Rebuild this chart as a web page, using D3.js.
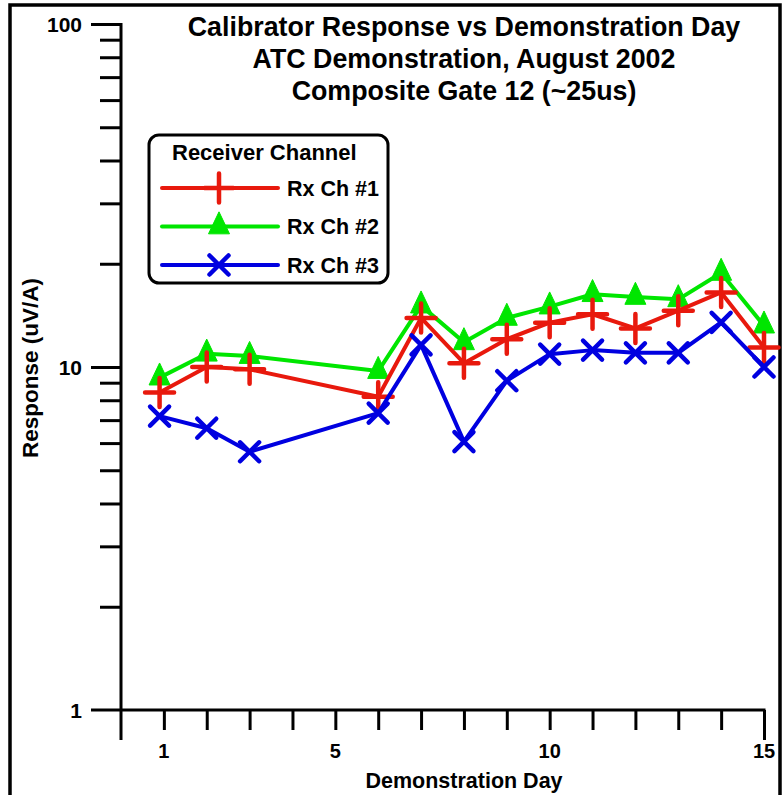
<!DOCTYPE html>
<html>
<head>
<meta charset="utf-8">
<script src="https://cdn.jsdelivr.net/npm/d3@7/dist/d3.min.js"></script>
<style>
  html, body { margin: 0; padding: 0; background: #fff; }
  svg { display: block; }
  text { font-family: "Liberation Sans", Arial, Helvetica, sans-serif; font-weight: bold; fill: #000; }
</style>
</head>
<body>
<svg id="chart" width="782" height="795"></svg>
<script>
// ---- data ----
const titleLines = ["Calibrator Response vs Demonstration Day", "ATC Demonstration, August 2002", "Composite Gate 12 (~25us)"];
const xLabel = "Demonstration Day";
const yLabel = "Response (uV/A)";
const legendTitle = "Receiver Channel";
const seriesNames = ["Rx Ch #1", "Rx Ch #2", "Rx Ch #3"];
const days = [0.9, 2, 3, 6, 7, 8, 9, 10, 11, 12, 13, 14, 15];
const ch1 = [8.43, 10.0, 9.85, 8.19, 13.9, 10.26, 12.05, 13.47, 14.25, 12.96, 14.6, 16.5, 11.4];
const ch2 = [9.31, 10.93, 10.76, 9.73, 15.1, 11.8, 13.9, 15.0, 16.3, 16.0, 15.75, 18.8, 13.2];
const ch3 = [7.19, 6.63, 5.66, 7.34, 11.6, 6.06, 9.12, 10.9, 11.2, 11.0, 11.0, 13.5, 10.0];
const xTickLabels = [1, 5, 10, 15];
const yTickLabels = [1, 10, 100];

// ---- setup ----
const svg = d3.select("#chart");
const x = d3.scaleLinear().domain([0, 15]).range([121, 764]);
const y = d3.scaleLog().domain([1, 100]).range([710, 24]);

const colors = { ch1: "#e8190d", ch2: "#00e600", ch3: "#0000e0" };

// outer frame
svg.append("rect").attr("x", 10).attr("y", 5).attr("width", 770).attr("height", 810)
  .attr("fill", "none").attr("stroke", "#000").attr("stroke-width", 3.5);

// titles
svg.selectAll("text.title").data(titleLines).enter().append("text")
  .attr("class", "title")
  .attr("x", 464).attr("y", (d, i) => 36 + i * 32)
  .attr("text-anchor", "middle").style("font-size", "26.8px")
  .text(d => d);

// y axis
const yAxis = d3.axisLeft(y)
  .tickValues(d3.range(0, 2).flatMap(k => d3.range(1, 10).map(m => m * Math.pow(10, k))).concat([100]))
  .tickFormat("").tickSizeOuter(0);
const yg = svg.append("g").attr("transform", "translate(121,0)").call(yAxis);
yg.select(".domain").remove();
yg.selectAll(".tick line")
  .attr("x2", d => (yTickLabels.includes(d) ? -30 : -21))
  .attr("stroke", "#000").attr("stroke-width", 3);
yg.selectAll(".tick").filter(d => d === 1).remove();
svg.append("line").attr("x1", 121).attr("x2", 121).attr("y1", y(100) - 1).attr("y2", 740)
  .attr("stroke", "#000").attr("stroke-width", 3);
svg.selectAll("text.ytl").data(yTickLabels).enter().append("text")
  .attr("class", "ytl")
  .attr("x", 82).attr("y", d => y(d) + 7.5)
  .attr("text-anchor", "end").style("font-size", "21px")
  .text(d => d);

// x axis
const xAxis = d3.axisBottom(x).tickValues(d3.range(1, 16)).tickFormat("").tickSizeOuter(0);
const xg = svg.append("g").attr("transform", "translate(0,710)").call(xAxis);
xg.select(".domain").remove();
xg.selectAll(".tick line").attr("y2", d => (d === 15 ? 30 : 20))
  .attr("stroke", "#000").attr("stroke-width", 3);
svg.append("line").attr("x1", 91).attr("x2", x(15) + 1.5).attr("y1", 710).attr("y2", 710)
  .attr("stroke", "#000").attr("stroke-width", 3);
svg.selectAll("text.xtl").data(xTickLabels).enter().append("text")
  .attr("class", "xtl")
  .attr("x", d => x(d)).attr("y", 758)
  .attr("text-anchor", "middle").style("font-size", "20px")
  .text(d => d);

// axis titles
svg.append("text").attr("x", 464).attr("y", 788).attr("text-anchor", "middle")
  .style("font-size", "21.5px").text(xLabel);
svg.append("text").attr("transform", "translate(38,368) rotate(-90)")
  .attr("text-anchor", "middle").style("font-size", "22.5px").text(yLabel);

// markers
function drawMarker(g, type, cx, cy, color) {
  if (type === "plus") {
    g.append("path").attr("d", `M${cx - 14.5},${cy}H${cx + 14.5}M${cx},${cy - 14.5}V${cy + 14.5}`)
      .attr("stroke", color).attr("stroke-width", 4.5).attr("stroke-linecap", "round").attr("fill", "none");
  } else if (type === "tri") {
    const h = 22, w = 21;
    g.append("path").attr("d", `M${cx},${cy - 2 * h / 3}L${cx + w / 2},${cy + h / 3}L${cx - w / 2},${cy + h / 3}Z`)
      .attr("fill", color).attr("stroke", color).attr("stroke-width", 1).attr("stroke-linejoin", "round");
  } else {
    const r = 9.5;
    g.append("path").attr("d", `M${cx - r},${cy - r}L${cx + r},${cy + r}M${cx - r},${cy + r}L${cx + r},${cy - r}`)
      .attr("stroke", color).attr("stroke-width", 4.5).attr("stroke-linecap", "round").attr("fill", "none");
  }
}

const series = [
  { name: seriesNames[1], vals: ch2, color: colors.ch2, marker: "tri" },
  { name: seriesNames[0], vals: ch1, color: colors.ch1, marker: "plus" },
  { name: seriesNames[2], vals: ch3, color: colors.ch3, marker: "x" }
];
const line = d3.line().x(d => x(d[0])).y(d => y(d[1]));
series.forEach(s => {
  const g = svg.append("g");
  const pts = days.map((d, i) => [d, s.vals[i]]);
  g.append("path").datum(pts).attr("d", line)
    .attr("fill", "none").attr("stroke", s.color).attr("stroke-width", 4)
    .attr("stroke-linejoin", "round").attr("stroke-linecap", "round");
  pts.forEach(p => drawMarker(g, s.marker, x(p[0]), y(p[1]), s.color));
});

// legend
const lg = svg.append("g");
lg.append("rect").attr("x", 149).attr("y", 135).attr("width", 239).attr("height", 148)
  .attr("rx", 10).attr("ry", 10).attr("fill", "#fff").attr("stroke", "#000").attr("stroke-width", 3);
lg.append("text").attr("x", 172).attr("y", 160).style("font-size", "22px").text(legendTitle);
const legendItems = [
  { name: seriesNames[0], color: colors.ch1, marker: "plus" },
  { name: seriesNames[1], color: colors.ch2, marker: "tri" },
  { name: seriesNames[2], color: colors.ch3, marker: "x" }
];
legendItems.forEach((it, i) => {
  const ly = 188 + i * 38.5;
  lg.append("line").attr("x1", 162).attr("x2", 278).attr("y1", ly).attr("y2", ly)
    .attr("stroke", it.color).attr("stroke-width", 4).attr("stroke-linecap", "round");
  drawMarker(lg, it.marker, 219, ly, it.color);
  lg.append("text").attr("x", 287).attr("y", ly + 7.5).style("font-size", "21.5px").text(it.name);
});
</script>
</body>
</html>
